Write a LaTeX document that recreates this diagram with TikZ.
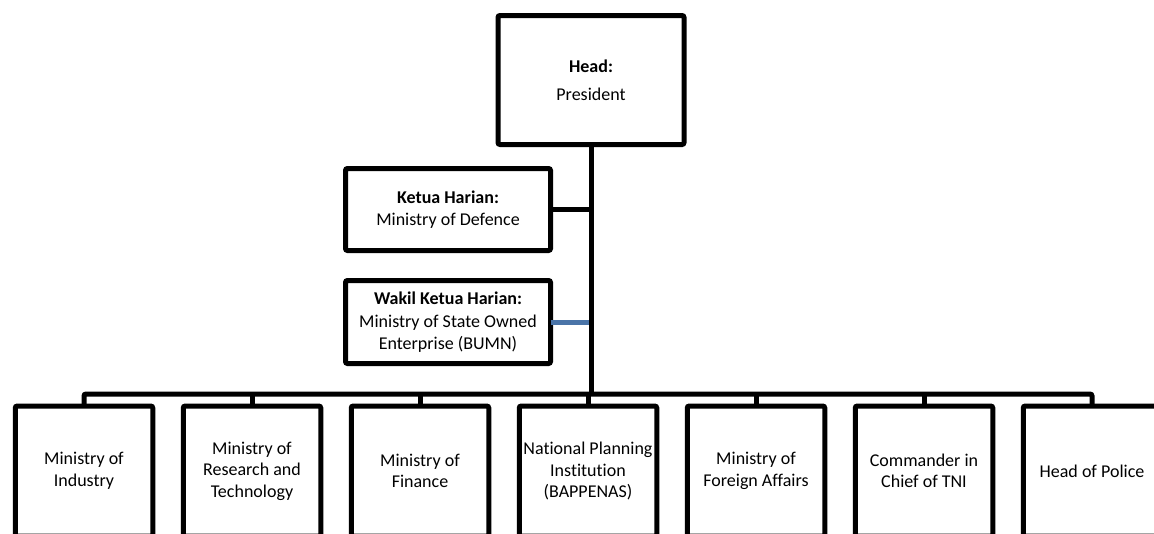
\documentclass[tikz,border=0pt]{standalone}
\usepackage{fontspec}
\setmainfont{Carlito}[Ligatures=NoCommon]
\usetikzlibrary{positioning}
\definecolor{linkblue}{RGB}{74,116,168}
\tikzset{
  unit/.style={draw, line width=5pt, rounded corners=2pt, outer sep=0pt, inner sep=0pt,
    align=center, font=\fontsize{18}{21.5}\selectfont},
  ministry/.style={unit, minimum width=137.5pt, minimum height=130pt},
  link/.style={line width=5pt},
}
\begin{document}
\begin{tikzpicture}[x=1pt, y=-1pt]
  \clip (0,0) rectangle (1154,533);

  % --- Vertici ---
  \node[unit, minimum width=186pt, minimum height=129pt] (head) at (591,80)
    {\textbf{Head:}\\[6pt]President};
  \node[unit, minimum width=205pt, minimum height=82pt] (ketua) at (448,209.5)
    {\textbf{Ketua Harian:}\\Ministry of Defence};
  \node[unit, minimum width=205pt, minimum height=83pt] (wakil) at (448,322)
    {\textbf{Wakil Ketua Harian:}\\[2pt]Ministry of State Owned\\Enterprise (BUMN)};

  % --- Ministeri ---
  \node[ministry] (m1) at (84,471) {Ministry of\\Industry};
  \node[ministry, right=30.5pt of m1] (m2) {Ministry of\\Research and\\Technology};
  \node[ministry, right=30.5pt of m2] (m3) {Ministry of\\Finance};
  \node[ministry, right=30.5pt of m3] (m4) {National Planning\\Institution\\(BAPPENAS)};
  \node[ministry, right=30.5pt of m4] (m5) {Ministry of\\Foreign Affairs};
  \node[ministry, right=30.5pt of m5] (m6) {Commander in\\Chief of TNI};
  \node[ministry, right=30.5pt of m6] (m7) {Head of Police};

  % --- Collegamenti ---
  \coordinate (bus) at (591,394);
  \draw[link, linkblue] (wakil.east) -- (wakil.east -| bus);
  \draw[link] (ketua.east) -- (ketua.east -| bus);
  \draw[link] (head.south) -- (bus);
  \draw[link, rounded corners=2pt] (m1.north) |- (m7.north |- bus) -- (m7.north);
  \draw[link] (m2.north) -- (m2.north |- bus);
  \draw[link] (m3.north) -- (m3.north |- bus);
  \draw[link] (m4.north) -- (m4.north |- bus);
  \draw[link] (m5.north) -- (m5.north |- bus);
  \draw[link] (m6.north) -- (m6.north |- bus);
\end{tikzpicture}
\end{document}
